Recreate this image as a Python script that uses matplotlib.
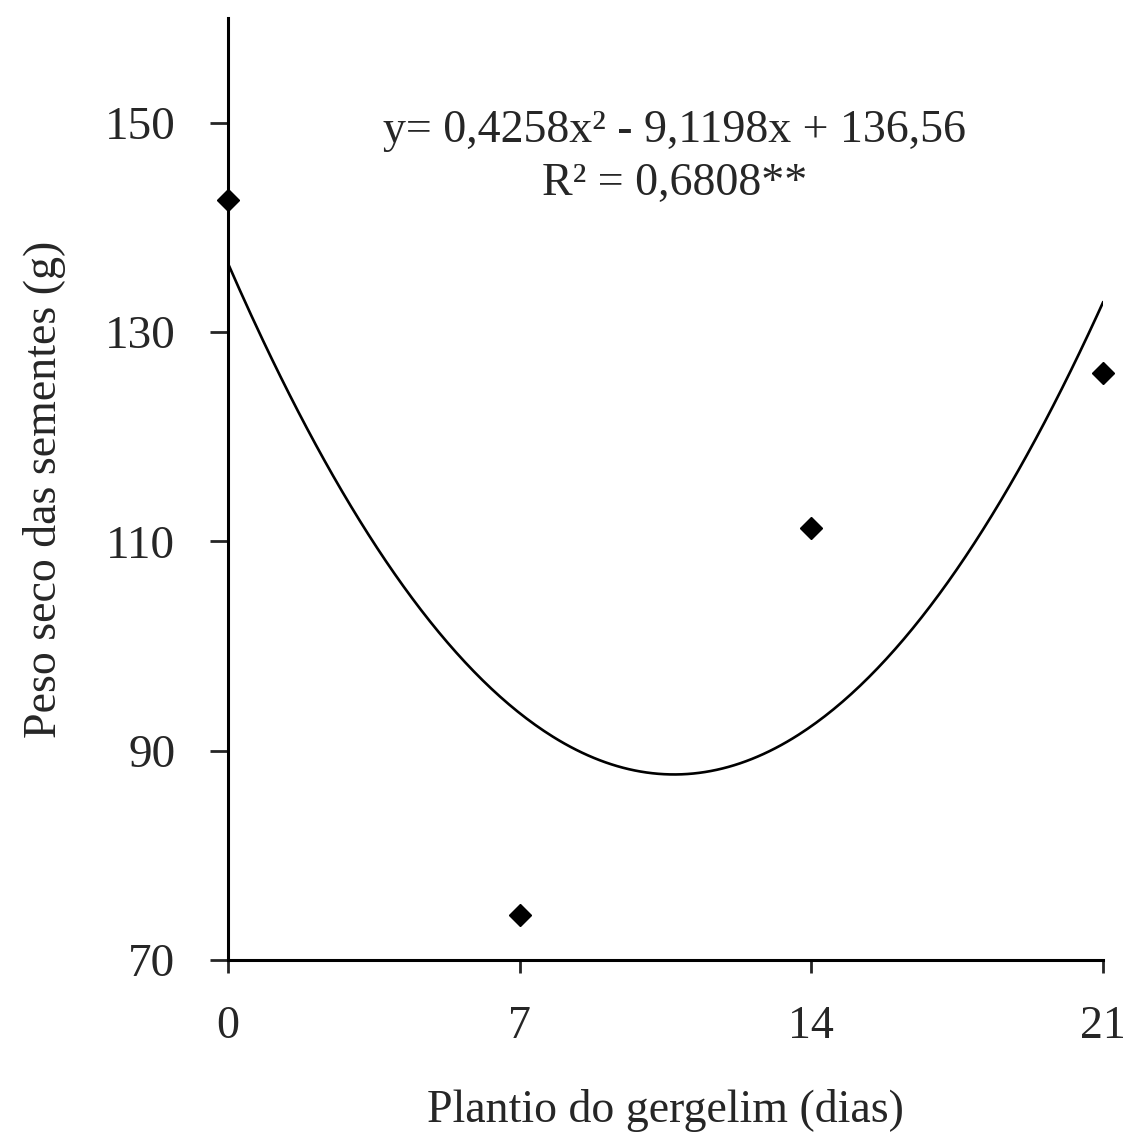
import numpy as np
import matplotlib
matplotlib.use("Agg")
import matplotlib.pyplot as plt

# Data
dias = [0, 7, 14, 21]
peso = [142.6, 74.3, 111.3, 126.1]
coef = [0.4258, -9.1198, 136.56]  # quadratic trendline coefficients (a, b, c)
xticks = [0, 7, 14, 21]
yticks = [70, 90, 110, 130, 150]

plt.rcParams['font.family'] = ['Liberation Serif', 'DejaVu Serif']
TXT = '#262626'

fig = plt.figure(figsize=(11.24, 11.38), dpi=100)
ax = fig.add_axes([0.2028, 0.1564, 0.9813 - 0.2028, 0.9842 - 0.1564])

xs = np.linspace(0, 21, 300)
ys = np.polyval(coef, xs)
ax.plot(xs, ys, color='black', lw=1.9, zorder=2)
ax.plot(dias, peso, linestyle='none', marker='D', color='black', ms=11, zorder=3, clip_on=False)

ax.set_xlim(0, 21)
ax.set_ylim(70, 160)
ax.set_xticks(xticks)
ax.set_yticks(yticks)
ax.tick_params(axis='y', direction='out', length=13, width=2, labelsize=34, pad=25, colors=TXT)
ax.tick_params(axis='x', direction='out', length=9, width=2, labelsize=33, pad=24, colors=TXT)
for s in ['top', 'right']:
    ax.spines[s].set_visible(False)
for s in ['left', 'bottom']:
    ax.spines[s].set_linewidth(2.2)

ax.set_xlabel('Plantio do gergelim (dias)', fontsize=33, labelpad=29, color=TXT)
ax.set_ylabel('Peso seco das sementes (g)', fontsize=33, labelpad=28, color=TXT)

ax.text(0.51, 0.903, 'y= 0,4258x\u00b2 - 9,1198x + 136,56\nR\u00b2 = 0,6808**',
        transform=ax.transAxes, ha='center', va='top', fontsize=33,
        linespacing=1.32, color=TXT)

fig.savefig('out.png', dpi=100)
